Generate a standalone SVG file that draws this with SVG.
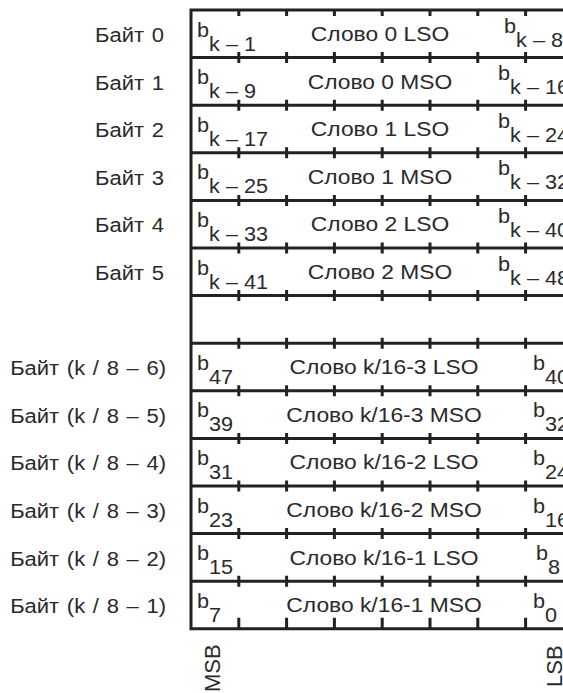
<svg xmlns="http://www.w3.org/2000/svg" xmlns:xlink="http://www.w3.org/1999/xlink" width="563" height="693" viewBox="0 0 563 693">
<style>
.t{font-family:"Liberation Sans",Arial,sans-serif;font-size:19.5px;fill:#2a2a2a}
.e{text-anchor:end;word-spacing:1.4px}
.m{text-anchor:middle}
.r{font-family:"Liberation Sans",Arial,sans-serif;font-size:22px;fill:#2a2a2a}
.ln{stroke:#222;stroke-width:3;fill:none}
</style>
<defs>
<path id="tt" class="ln" d="M238.8 0v6M286.6 0v6M334.4 0v6M382.2 0v6M430 0v6M477.8 0v6M525.6 0v6"/>
<path id="tm" class="ln" d="M238.8 -5.5v11M286.6 -5.5v11M334.4 -5.5v11M382.2 -5.5v11M430 -5.5v11M477.8 -5.5v11M525.6 -5.5v11"/>
<path id="tb" class="ln" d="M238.8 0v-11M286.6 0v-11M334.4 0v-11M382.2 0v-11M430 0v-11M477.8 0v-11M525.6 0v-11"/>
</defs>
<g id="grid">
<path class="ln" stroke-linecap="square" d="M191 10H580M191 57.6H580M191 105.2H580M191 152.8H580M191 200.4H580M191 248H580M191 295.6H580M191 343.2H580M191 390.8H580M191 438.4H580M191 486H580M191 533.6H580M191 581.2H580M191 628.8H580M191 10V628.8"/>
<use xlink:href="#tt" y="10"/>
<use xlink:href="#tm" y="57.6"/>
<use xlink:href="#tm" y="105.2"/>
<use xlink:href="#tm" y="152.8"/>
<use xlink:href="#tm" y="200.4"/>
<use xlink:href="#tm" y="248"/>
<use xlink:href="#tm" y="295.6"/>
<use xlink:href="#tm" y="343.2"/>
<use xlink:href="#tm" y="390.8"/>
<use xlink:href="#tm" y="438.4"/>
<use xlink:href="#tm" y="486"/>
<use xlink:href="#tm" y="533.6"/>
<use xlink:href="#tm" y="581.2"/>
<use xlink:href="#tb" y="628.8"/>
</g>
<g id="row0">
<text class="t e" transform="translate(164 42) scale(1.128 1)">Байт 0</text>
<text class="t" transform="translate(197 36.5) scale(1.11 1)">b<tspan dy="14">k – 1</tspan></text>
<text class="t m" transform="translate(380 41) scale(1.17 1)">Слово 0 LSO</text>
<text class="t" transform="translate(504 32.5) scale(1.11 1)">b<tspan dy="14">k – 8</tspan></text>
</g>
<g id="row1">
<text class="t e" transform="translate(164 89.6) scale(1.128 1)">Байт 1</text>
<text class="t" transform="translate(197 84.1) scale(1.11 1)">b<tspan dy="14">k – 9</tspan></text>
<text class="t m" transform="translate(380 88.6) scale(1.17 1)">Слово 0 MSO</text>
<text class="t" transform="translate(498 80.1) scale(1.11 1)">b<tspan dy="14">k – 16</tspan></text>
</g>
<g id="row2">
<text class="t e" transform="translate(164 137.2) scale(1.128 1)">Байт 2</text>
<text class="t" transform="translate(197 131.7) scale(1.11 1)">b<tspan dy="14">k – 17</tspan></text>
<text class="t m" transform="translate(380 136.2) scale(1.17 1)">Слово 1 LSO</text>
<text class="t" transform="translate(498 127.7) scale(1.11 1)">b<tspan dy="14">k – 24</tspan></text>
</g>
<g id="row3">
<text class="t e" transform="translate(164 184.8) scale(1.128 1)">Байт 3</text>
<text class="t" transform="translate(197 179.3) scale(1.11 1)">b<tspan dy="14">k – 25</tspan></text>
<text class="t m" transform="translate(380 183.8) scale(1.17 1)">Слово 1 MSO</text>
<text class="t" transform="translate(498 175.3) scale(1.11 1)">b<tspan dy="14">k – 32</tspan></text>
</g>
<g id="row4">
<text class="t e" transform="translate(164 232.4) scale(1.128 1)">Байт 4</text>
<text class="t" transform="translate(197 226.9) scale(1.11 1)">b<tspan dy="14">k – 33</tspan></text>
<text class="t m" transform="translate(380 231.4) scale(1.17 1)">Слово 2 LSO</text>
<text class="t" transform="translate(498 222.9) scale(1.11 1)">b<tspan dy="14">k – 40</tspan></text>
</g>
<g id="row5">
<text class="t e" transform="translate(164 280) scale(1.128 1)">Байт 5</text>
<text class="t" transform="translate(197 274.5) scale(1.11 1)">b<tspan dy="14">k – 41</tspan></text>
<text class="t m" transform="translate(380 279) scale(1.17 1)">Слово 2 MSO</text>
<text class="t" transform="translate(498 270.5) scale(1.11 1)">b<tspan dy="14">k – 48</tspan></text>
</g>
<g id="row7">
<text class="t e" transform="translate(166 375.2) scale(1.128 1)">Байт (k / 8 – 6)</text>
<text class="t" transform="translate(197 369.7) scale(1.11 1)">b<tspan dy="14">47</tspan></text>
<text class="t m" transform="translate(384 374.2) scale(1.17 1)">Слово k/16-3 LSO</text>
<text class="t" transform="translate(533 369.7) scale(1.11 1)">b<tspan dy="14">40</tspan></text>
</g>
<g id="row8">
<text class="t e" transform="translate(166 422.8) scale(1.128 1)">Байт (k / 8 – 5)</text>
<text class="t" transform="translate(197 417.3) scale(1.11 1)">b<tspan dy="14">39</tspan></text>
<text class="t m" transform="translate(384 421.8) scale(1.17 1)">Слово k/16-3 MSO</text>
<text class="t" transform="translate(533 417.3) scale(1.11 1)">b<tspan dy="14">32</tspan></text>
</g>
<g id="row9">
<text class="t e" transform="translate(166 470.4) scale(1.128 1)">Байт (k / 8 – 4)</text>
<text class="t" transform="translate(197 464.9) scale(1.11 1)">b<tspan dy="14">31</tspan></text>
<text class="t m" transform="translate(384 469.4) scale(1.17 1)">Слово k/16-2 LSO</text>
<text class="t" transform="translate(533 464.9) scale(1.11 1)">b<tspan dy="14">24</tspan></text>
</g>
<g id="row10">
<text class="t e" transform="translate(166 518) scale(1.128 1)">Байт (k / 8 – 3)</text>
<text class="t" transform="translate(197 512.5) scale(1.11 1)">b<tspan dy="14">23</tspan></text>
<text class="t m" transform="translate(384 517) scale(1.17 1)">Слово k/16-2 MSO</text>
<text class="t" transform="translate(533 512.5) scale(1.11 1)">b<tspan dy="14">16</tspan></text>
</g>
<g id="row11">
<text class="t e" transform="translate(166 565.6) scale(1.128 1)">Байт (k / 8 – 2)</text>
<text class="t" transform="translate(197 560.1) scale(1.11 1)">b<tspan dy="14">15</tspan></text>
<text class="t m" transform="translate(384 564.6) scale(1.17 1)">Слово k/16-1 LSO</text>
<text class="t" transform="translate(536 560.1) scale(1.11 1)">b<tspan dy="14">8</tspan></text>
</g>
<g id="row12">
<text class="t e" transform="translate(166 613.2) scale(1.128 1)">Байт (k / 8 – 1)</text>
<text class="t" transform="translate(197 607.7) scale(1.11 1)">b<tspan dy="14">7</tspan></text>
<text class="t m" transform="translate(384 612.2) scale(1.17 1)">Слово k/16-1 MSO</text>
<text class="t" transform="translate(533 607.7) scale(1.11 1)">b<tspan dy="14">0</tspan></text>
</g>
<g id="axis">
<text class="r" transform="translate(220 692) rotate(-90)">MSB</text>
<text class="r" transform="translate(562 687) rotate(-90)">LSB</text>
</g>
</svg>
